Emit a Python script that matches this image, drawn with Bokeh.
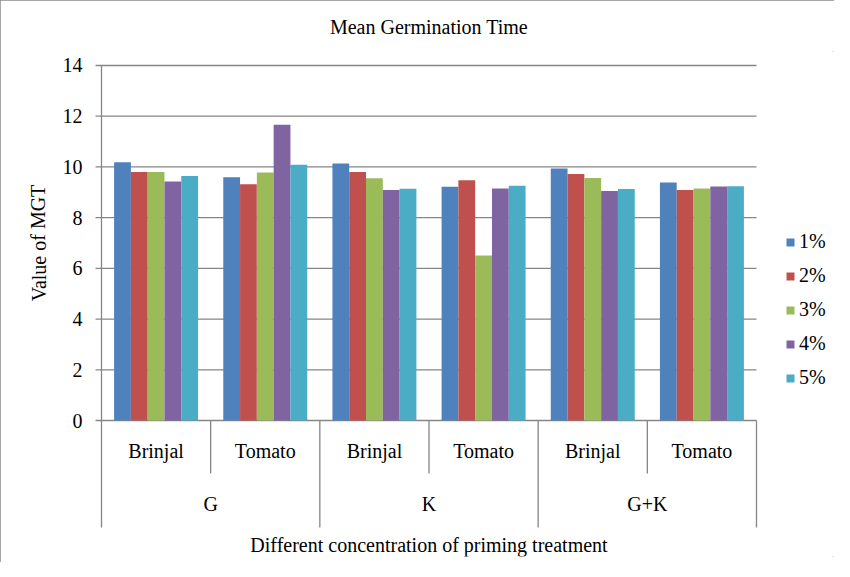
from bokeh.plotting import figure
from bokeh.models import (ColumnDataSource, FactorRange, Range1d, Legend, LegendItem)
from bokeh.transform import dodge
from bokeh.core.properties import value
from bokeh.embed import file_html
from bokeh.resources import INLINE

# ---- data ----
groups = ["G", "K", "G+K"]
crops = ["Brinjal", "Tomato"]
series_names = ["1%", "2%", "3%", "4%", "5%"]
s1 = [10.18, 9.59, 10.14, 9.22, 9.94, 9.39]
s2 = [9.80, 9.32, 9.80, 9.47, 9.72, 9.09]
s3 = [9.80, 9.78, 9.55, 6.51, 9.56, 9.15]
s4 = [9.43, 11.66, 9.09, 9.15, 9.05, 9.23]
s5 = [9.64, 10.09, 9.14, 9.26, 9.13, 9.24]
y_ticks = [0, 2, 4, 6, 8, 10, 12, 14]

colors = ["#4F81BD", "#C0504D", "#9BBB59", "#8064A2", "#4BACC6"]
FONT = "Liberation Serif"
FS = "20px"
GRID = "#868686"

factors = [(g, c) for g in groups for c in crops]
series = [s1, s2, s3, s4, s5]

PX = 655 / 6.0          # pixels per category
PAD = 78 / PX           # side padding in category units

src = ColumnDataSource(dict(x=factors, **{f"s{i+1}": s for i, s in enumerate(series)}))

x_range = FactorRange(*factors, factor_padding=0, group_padding=0, subgroup_padding=0,
                      range_padding=PAD, range_padding_units="absolute")
p = figure(frame_width=811, frame_height=505, x_range=x_range, y_range=Range1d(-5.363, 14.552),
           output_backend="svg", toolbar_location=None,
           x_axis_location=None, y_axis_location=None,
           min_border_left=23, min_border_right=0, min_border_top=50, min_border_bottom=6,
           title="Mean Germination Time")
p.styles = {"outline": "2px solid #8a8a8a", "outline-offset": "-2px"}
p.outline_line_color = None
p.background_fill_color = "white"
p.border_fill_color = "white"
p.grid.grid_line_color = None

p.title.align = "center"
p.title.text_font = FONT
p.title.text_font_size = FS
p.title.text_font_style = "normal"
p.title.text_color = "black"
p.title.standoff = 27

first = [(g, "Brinjal") for g in groups]
second = [(g, "Tomato") for g in groups]
left_f = ("G", "Brinjal")
right_f = ("G+K", "Tomato")

# horizontal gridlines (with outside tick marks) and y tick labels
grid_src = ColumnDataSource(dict(xl=[left_f] * len(y_ticks), xr=[right_f] * len(y_ticks),
                                 y=y_ticks, t=[str(v) for v in y_ticks]))
p.segment(x0=dodge("xl", -0.5 - 6 / PX, range=p.x_range),
          x1=dodge("xr", 0.5, range=p.x_range),
          y0="y", y1="y", source=grid_src, line_color=GRID, line_width=1.3)
p.text(x=dodge("xl", -0.5 - 19 / PX, range=p.x_range), y="y", text="t", source=grid_src,
       text_align="right", text_baseline="middle",
       text_font=value(FONT), text_font_size=FS, text_color="black")

# y axis title
ylab_src = ColumnDataSource(dict(x=[left_f], y=[7], t=["Value of MGT"]))
p.text(x=dodge("x", -0.5 - 63 / PX, range=p.x_range), y="y", text="t", source=ylab_src,
       angle=1.5708, text_align="center", text_baseline="middle",
       text_font=value(FONT), text_font_size=FS, text_color="black")

# bars
w = 1 / 6.5
renderers = []
for i, name in enumerate(series_names):
    r = p.vbar(x=dodge("x", (i - 2) * w, range=p.x_range), top=f"s{i+1}", width=w,
               bottom=0, source=src, fill_color=colors[i], line_color=None)
    renderers.append(r)

# category separators and labels
sep_group = ColumnDataSource(dict(x=first, y0=[14, 0, 0], y1=[-4.22] * 3))
p.segment(x0=dodge("x", -0.5, range=p.x_range), x1=dodge("x", -0.5, range=p.x_range),
          y0="y0", y1="y1", source=sep_group, line_color=GRID, line_width=1.3)
sep_end = ColumnDataSource(dict(x=[right_f], y0=[0], y1=[-4.22]))
p.segment(x0=dodge("x", 0.5, range=p.x_range), x1=dodge("x", 0.5, range=p.x_range),
          y0="y0", y1="y1", source=sep_end, line_color=GRID, line_width=1.3)
sep_sub = ColumnDataSource(dict(x=second, y0=[0] * 3, y1=[-2.09] * 3))
p.segment(x0=dodge("x", -0.5, range=p.x_range), x1=dodge("x", -0.5, range=p.x_range),
          y0="y0", y1="y1", source=sep_sub, line_color=GRID, line_width=1.3)

crop_src = ColumnDataSource(dict(x=factors, t=[c for g, c in factors], y=[-1.22] * 6))
p.text(x="x", y="y", text="t", source=crop_src, text_align="center", text_baseline="middle",
       text_font=value(FONT), text_font_size=FS, text_color="black")
grp_src = ColumnDataSource(dict(x=second, t=groups, y=[-3.31] * 3))
p.text(x=dodge("x", -0.5, range=p.x_range), y="y", text="t", source=grp_src,
       text_align="center", text_baseline="middle",
       text_font=value(FONT), text_font_size=FS, text_color="black")
xt_src = ColumnDataSource(dict(x=[("K", "Tomato")], t=["Different concentration of priming treatment"], y=[-4.89]))
p.text(x=dodge("x", -0.5, range=p.x_range), y="y", text="t", source=xt_src,
       text_align="center", text_baseline="middle",
       text_font=value(FONT), text_font_size=FS, text_color="black")

legend = Legend(items=[LegendItem(label=n, renderers=[r]) for n, r in zip(series_names, renderers)],
                location=(762, 167), border_line_color=None, background_fill_alpha=0,
                glyph_width=10, glyph_height=10, label_standoff=4, spacing=11,
                label_height=20, margin=0, padding=0,
                label_text_font=FONT, label_text_font_size=FS, label_text_color="black")
p.add_layout(legend)

open("out.html", "w").write(file_html(p, INLINE))
